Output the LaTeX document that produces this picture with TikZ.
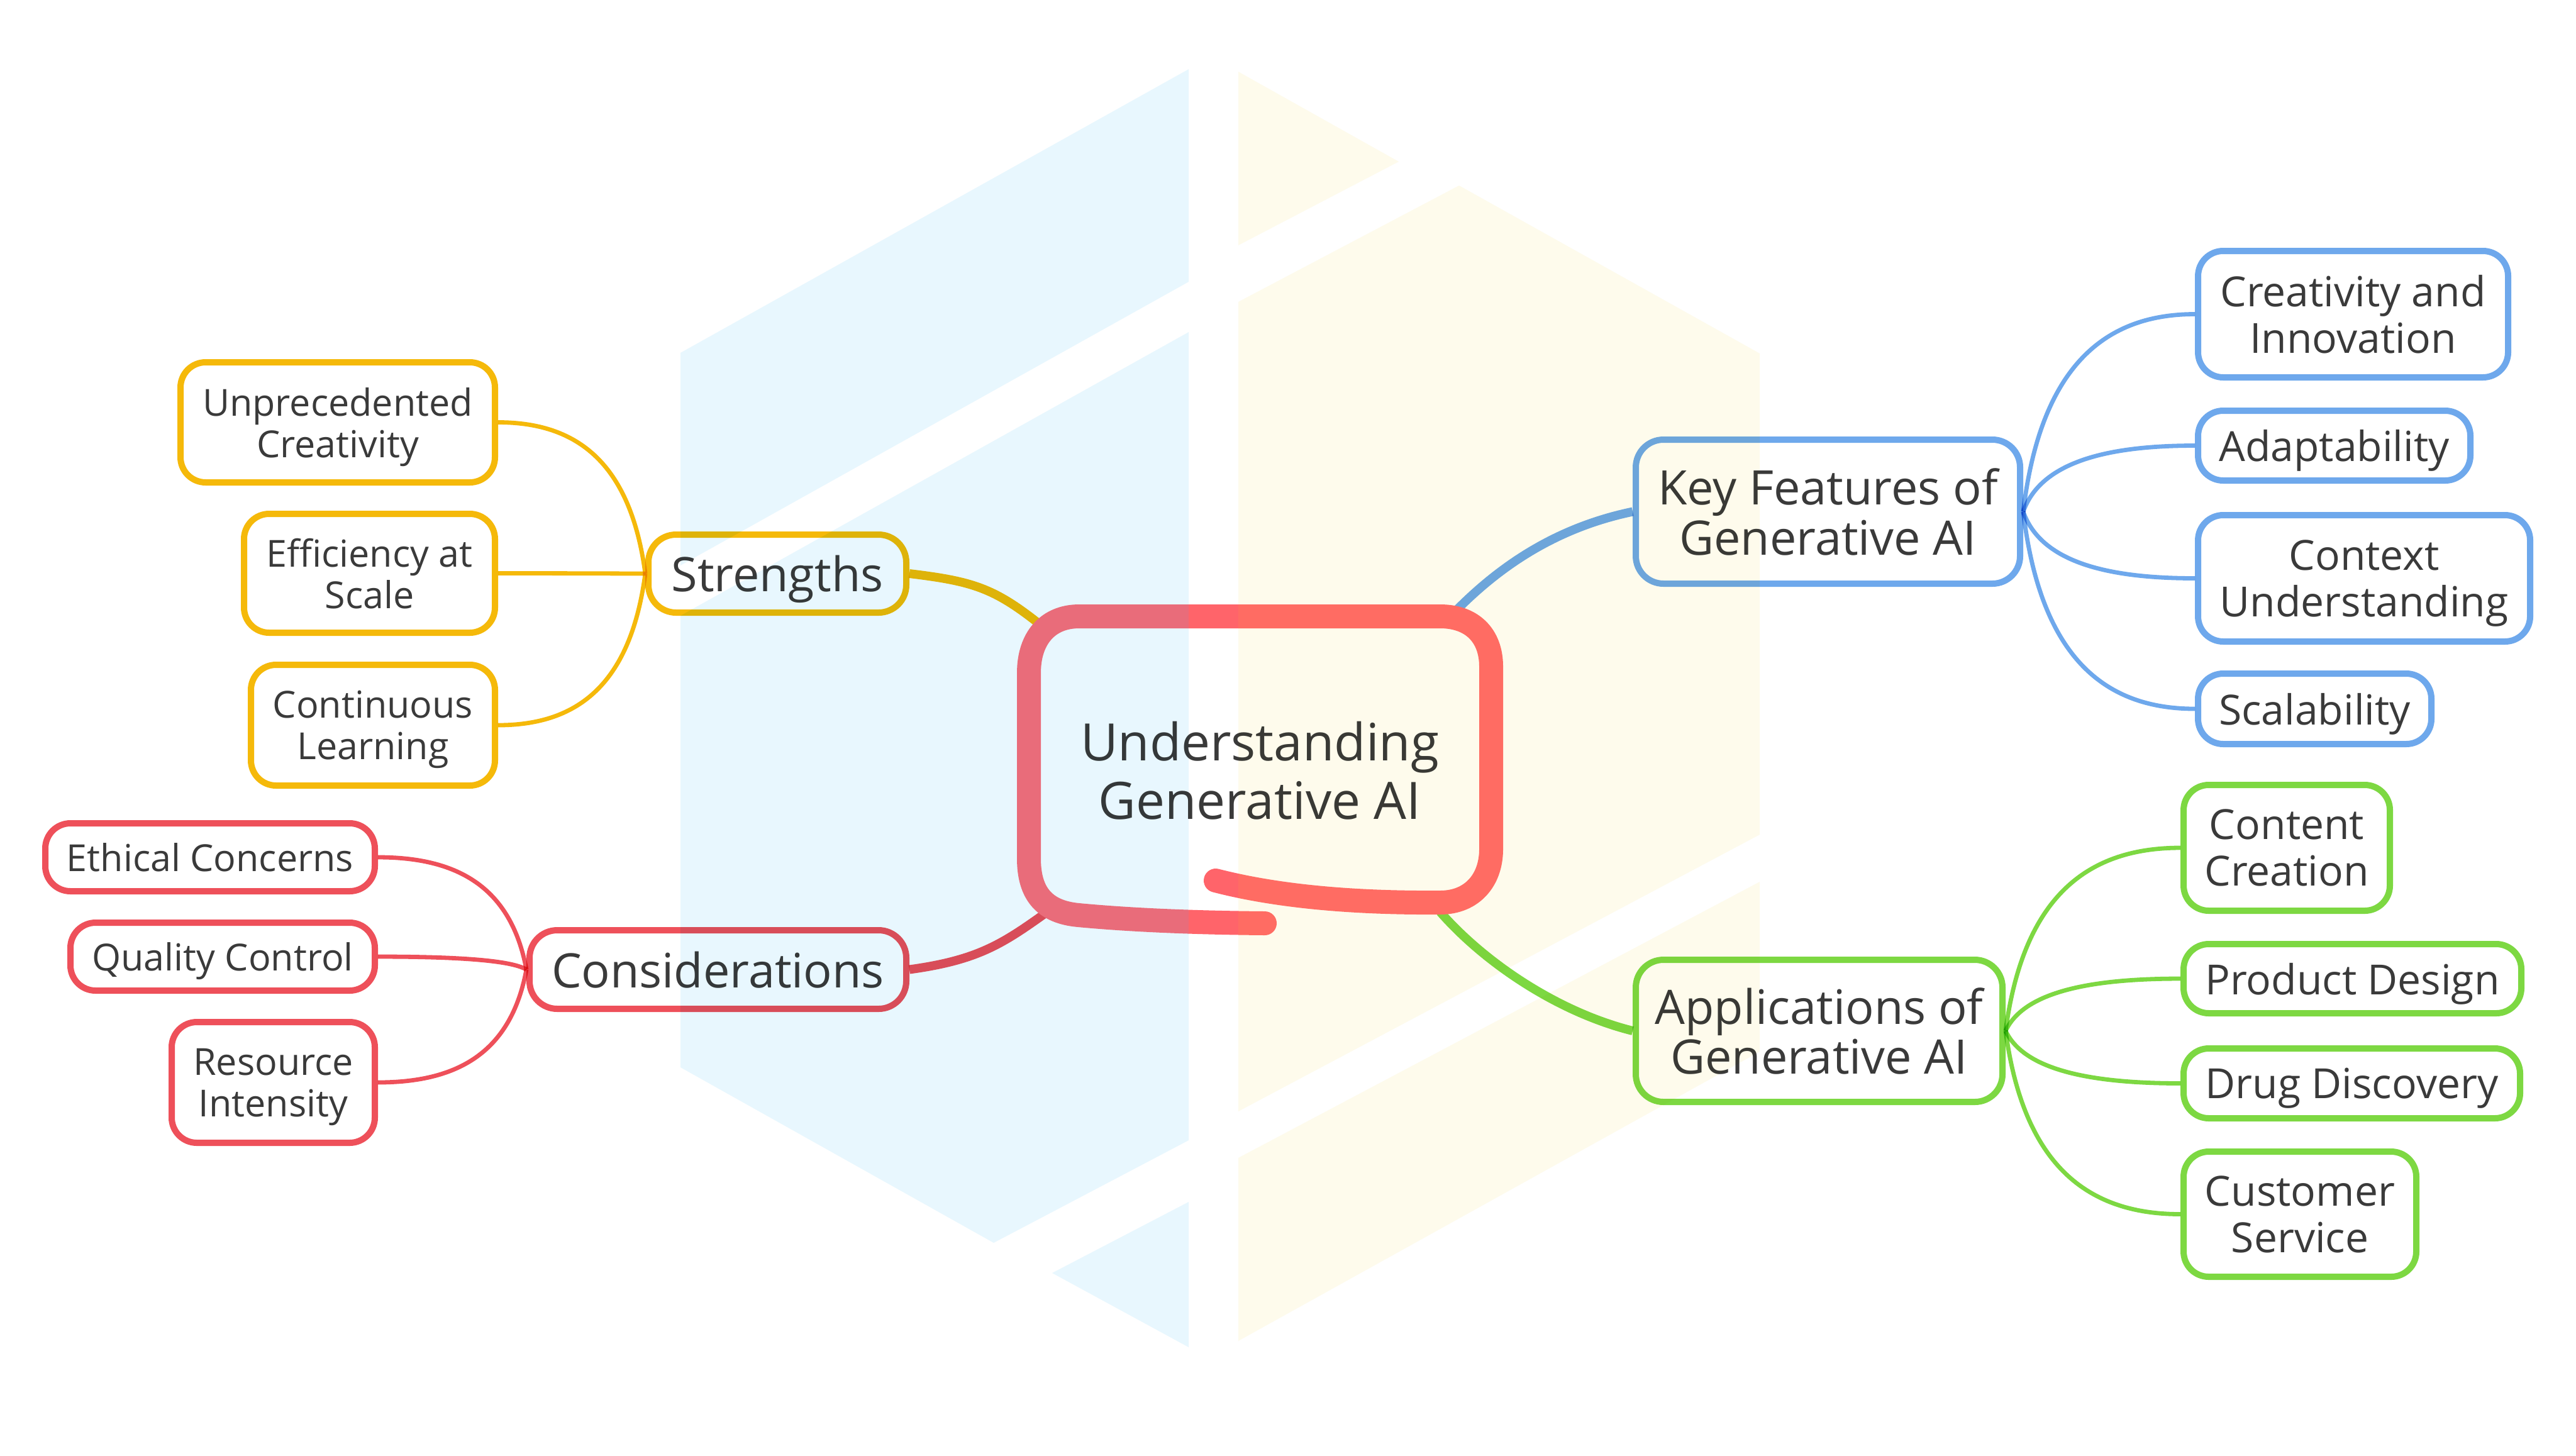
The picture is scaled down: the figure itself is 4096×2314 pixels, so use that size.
\documentclass[tikz,border=0pt]{standalone}
\usepackage{fontspec}
\setmainfont{Open Sans}
\usetikzlibrary{calc}
\definecolor{bgblue}{RGB}{232,247,254}
\definecolor{bgcream}{RGB}{254,251,236}
\definecolor{cY}{RGB}{245,185,10}
\definecolor{cR}{RGB}{238,80,90}
\definecolor{cB}{RGB}{110,168,236}
\definecolor{cG}{RGB}{125,216,66}
\definecolor{cCa}{RGB}{233,108,122}
\definecolor{cCb}{RGB}{255,100,106}
\definecolor{cCc}{RGB}{255,108,99}
\definecolor{txt}{RGB}{58,58,58}
\def\ctrpath{(1933,1400) .. controls (2030,1425) and (2150,1436) .. (2290,1435)
  .. controls (2340,1435) and (2371,1400) .. (2371,1350)
  -- (2371,1060)
  .. controls (2371,1010) and (2340,980) .. (2290,980)
  -- (1716,980)
  .. controls (1666,980) and (1636,1015) .. (1636,1070)
  -- (1636,1365)
  .. controls (1636,1420) and (1660,1450) .. (1715,1455)
  .. controls (1800,1463) and (1900,1467) .. (2011,1468)}
\begin{document}
\begin{tikzpicture}[x=0.25pt,y=-0.25pt,
  box/.style={draw, line width=2.5pt, rounded corners=10pt, align=center, text=txt, inner sep=0pt, text depth=0pt},
  leafR/.style={box, font=\fontsize{16.5pt}{18.5pt}\selectfont},
  leafL/.style={box, font=\fontsize{14.8pt}{16.5pt}\selectfont},
  branch/.style={box, rounded corners=11pt, font=\fontsize{18.9pt}{19.8pt}\selectfont},
  fanY/.style={cY, line width=1.7pt},
  fanR/.style={cR, line width=1.7pt},
  fanB/.style={cB, line width=1.7pt},
  fanG/.style={cG, line width=1.7pt},
  mainlink/.style={line width=3.5pt},
  ctrline/.style={line width=9.5pt, line cap=round, line join=round}
]
\useasboundingbox (0,0) rectangle (4096,2314);
\fill[white] (0,0) rectangle (4096,2314);
% background hexagon halves
\fill[bgblue] (1082,561) -- (1890,110) -- (1890,448) -- (1082,899) -- cycle;
\fill[bgblue] (1082,979) -- (1890,528) -- (1890,1813) -- (1580,1976) -- (1082,1697) -- cycle;
\fill[bgblue] (1890,1911) -- (1673,2024) -- (1890,2142) -- cycle;
\fill[bgcream] (1969,114) -- (2224,257) -- (1969,390) -- cycle;
\fill[bgcream] (1969,480) -- (2320,295) -- (2798,562) -- (2798,1327) -- (1969,1767) -- cycle;
\fill[bgcream] (1969,1841) -- (2798,1402) -- (2798,1672) -- (1969,2132) -- cycle;

\begin{scope}[blend mode=multiply]
% central node text
\node[text=txt, align=center, inner sep=0pt, font=\fontsize{20.5pt}{23.25pt}\selectfont] (ctr) at (2003,1225) {Understanding\\Generative AI};
\coordinate (cS) at (1650,990);
\coordinate (cC) at (1665,1450);
\coordinate (cK) at (2318,968);
\coordinate (cA) at (2290,1450);

% branches
\node[branch, draw=cY, minimum width=102.5pt, minimum height=31pt] (st) at (1236,912) {Strengths};
\node[branch, draw=cR, minimum width=149.75pt, minimum height=31.25pt] (co) at (1141.5,1541.5) {Considerations};
\node[branch, draw=cB, minimum width=152.75pt, minimum height=57.25pt] (kf) at (2906.5,813.5) {Key Features of\\Generative AI};
\node[branch, draw=cG, minimum width=145.75pt, minimum height=56.5pt] (ap) at (2892.5,1639) {Applications of\\Generative AI};

% leaves
\node[leafL, draw=cY, minimum width=125pt, minimum height=47.75pt] (un) at (537,671.5) {Unprecedented\\Creativity};
\node[leafL, draw=cY, minimum width=99.75pt, minimum height=47.25pt] (ef) at (587.5,911.5) {Efficiency at\\Scale};
\node[leafL, draw=cY, minimum width=97pt, minimum height=48pt] (cl) at (593,1153) {Continuous\\Learning};
\node[leafL, draw=cR, minimum width=131pt, minimum height=27pt] (et) at (334,1363) {Ethical Concerns};
\node[leafL, draw=cR, minimum width=121pt, minimum height=27pt] (ql) at (354,1521) {Quality Control};
\node[leafL, draw=cR, minimum width=80.75pt, minimum height=48pt] (rs) at (434.5,1721) {Resource\\Intensity};
\node[leafR, draw=cB, minimum width=123.25pt, minimum height=50.25pt] (cr) at (3741.5,499.5) {Creativity and\\Innovation};
\node[leafR, draw=cB, minimum width=108.25pt, minimum height=27.75pt] (ad) at (3711.5,708.5) {Adaptability};
\node[leafR, draw=cB, minimum width=132pt, minimum height=50.25pt] (cx) at (3759,919.5) {Context\\Understanding};
\node[leafR, draw=cB, minimum width=92.75pt, minimum height=28pt] (sc) at (3680.5,1127) {Scalability};
\node[leafR, draw=cG, minimum width=82pt, minimum height=50pt] (cc) at (3636,1348) {Content\\Creation};
\node[leafR, draw=cG, minimum width=134.25pt, minimum height=27.5pt] (pd) at (3740.5,1556) {Product Design};
\node[leafR, draw=cG, minimum width=133.75pt, minimum height=27.75pt] (dd) at (3739.5,1722.5) {Drug Discovery};
\node[leafR, draw=cG, minimum width=92.5pt, minimum height=49.75pt] (cs) at (3657,1930.5) {Customer\\Service};

% main connectors
\draw[mainlink, cY] (st.east) .. controls +(100,12) and +(-70,-55) .. (cS);
\draw[mainlink, cR] (co.east) .. controls +(110,-15) and +(-70,50) .. (cC);
\draw[mainlink, cB] (cK) .. controls +(70,-70) and +(-120,25) .. (kf.west);
\draw[mainlink, cG] (cA) .. controls +(70,80) and +(-120,-30) .. (ap.west);

% fan connectors
\draw[fanY] (st.west) .. controls +(-24,-180) and +(122,0) .. (un.east);
\draw[fanY] (st.west) .. controls +(-24,0) and +(122,0) .. (ef.east);
\draw[fanY] (st.west) .. controls +(-24,181) and +(122,0) .. (cl.east);
\draw[fanR] (co.west) .. controls +(-25,-134) and +(123,0) .. (et.east);
\draw[fanR] (co.west) .. controls +(-25,-15) and +(123,0) .. (ql.east);
\draw[fanR] (co.west) .. controls +(-25,135) and +(123,0) .. (rs.east);
\draw[fanB] (kf.east) .. controls +(28,-235) and +(-140,0) .. (cr.west);
\draw[fanB] (kf.east) .. controls +(28,-79) and +(-140,0) .. (ad.west);
\draw[fanB] (kf.east) .. controls +(28,80) and +(-140,0) .. (cx.west);
\draw[fanB] (kf.east) .. controls +(28,236) and +(-140,0) .. (sc.west);
\draw[fanG] (ap.east) .. controls +(29,-218) and +(-144,0) .. (cc.west);
\draw[fanG] (ap.east) .. controls +(29,-62) and +(-144,0) .. (pd.west);
\draw[fanG] (ap.east) .. controls +(29,62) and +(-144,0) .. (dd.west);
\draw[fanG] (ap.east) .. controls +(29,218) and +(-144,0) .. (cs.west);
\end{scope}

% central hand-drawn outline, coloured per background band
\begin{scope}
  \clip (0,0) rectangle (1890,2314);
  \draw[ctrline, cCa] \ctrpath;
\end{scope}
\begin{scope}
  \clip (1890,0) rectangle (1969,2314);
  \draw[ctrline, cCb] \ctrpath;
\end{scope}
\begin{scope}
  \clip (1969,0) rectangle (4096,2314);
  \draw[ctrline, cCc] \ctrpath;
\end{scope}
\end{tikzpicture}
\end{document}
